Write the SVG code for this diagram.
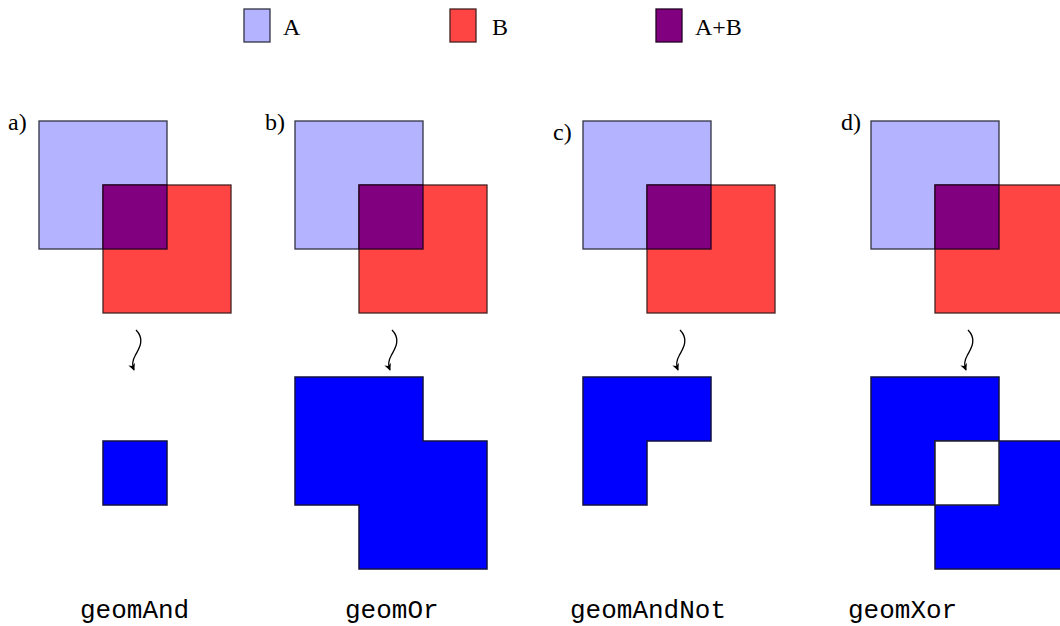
<svg xmlns="http://www.w3.org/2000/svg" width="1060" height="626" viewBox="0 0 1060 626">
<style>
.a{fill:#b3b3ff;stroke:#333344;stroke-width:1.3}
.b{fill:#ff4444;stroke:#442222;stroke-width:1.3}
.ab{fill:#800080;stroke:#220022;stroke-width:1.3}
.r{fill:#0000ff;stroke:#111144;stroke-width:1.5}
.h{fill:#ffffff;stroke:#222233;stroke-width:1.5}
.t{font-family:"Liberation Serif",serif;font-size:24px;fill:#000}
.lab{font-family:"Liberation Serif",serif;font-size:24px;fill:#000}
.m{font-family:"Liberation Mono",monospace;font-size:26px;fill:#000}
.arr{fill:none;stroke:#000;stroke-width:1.3}
</style>
<defs>
<marker id="ah" viewBox="0 0 10 10" refX="9" refY="5" markerWidth="7" markerHeight="7" orient="auto" markerUnits="userSpaceOnUse">
<path d="M0,0 L10,5 L0,10 L3,5 Z" fill="#000"/>
</marker>
<g id="pair">
<rect class="a" x="39" y="121" width="128" height="128"/>
<rect class="b" x="103" y="185" width="128" height="128"/>
<rect class="ab" x="103" y="185" width="64" height="64"/>
</g>
</defs>
<g id="legend">
<rect class="a" x="244" y="9" width="26" height="33"/>
<text class="t" x="283" y="35">A</text>
<rect class="b" x="450" y="9" width="26" height="33"/>
<text class="t" x="492" y="35">B</text>
<rect class="ab" x="656" y="9" width="26" height="33"/>
<text class="t" x="695" y="35">A+B</text>
</g>
<g id="panel-a">
<text class="lab" x="8" y="130">a)</text>
<use href="#pair"/>
<rect class="r" x="103" y="441" width="64" height="64"/>
<text class="m" x="80" y="618">geomAnd</text>
</g>
<g id="panel-b">
<text class="lab" x="265" y="130">b)</text>
<use href="#pair" transform="translate(256,0)"/>
<path class="r" d="M295,377 H423 V441 H487 V569 H359 V505 H295 Z"/>
<text class="m" x="345" y="618">geomOr</text>
</g>
<g id="panel-c">
<text class="lab" x="553" y="140">c)</text>
<use href="#pair" transform="translate(544,0)"/>
<path class="r" d="M583,377 H711 V441 H647 V505 H583 Z"/>
<text class="m" x="570" y="618">geomAndNot</text>
</g>
<g id="panel-d">
<text class="lab" x="841" y="130">d)</text>
<use href="#pair" transform="translate(832,0)"/>
<rect class="r" x="871" y="377" width="128" height="128"/>
<rect class="r" x="935" y="441" width="128" height="128"/>
<rect class="h" x="935" y="441" width="64" height="64"/>
<text class="m" x="848" y="618">geomXor</text>
</g>
<g id="connectors">
<path class="arr" marker-end="url(#ah)" d="M136,330 C146,340 138,350 135,356 C132,361 132,365 134,370"/>
<path class="arr" marker-end="url(#ah)" d="M392,330 C402,340 394,350 391,356 C388,361 388,365 390,370"/>
<path class="arr" marker-end="url(#ah)" d="M680,330 C690,340 682,350 679,356 C676,361 676,365 678,370"/>
<path class="arr" marker-end="url(#ah)" d="M968,330 C978,340 970,350 967,356 C964,361 964,365 966,370"/>
</g>
</svg>
